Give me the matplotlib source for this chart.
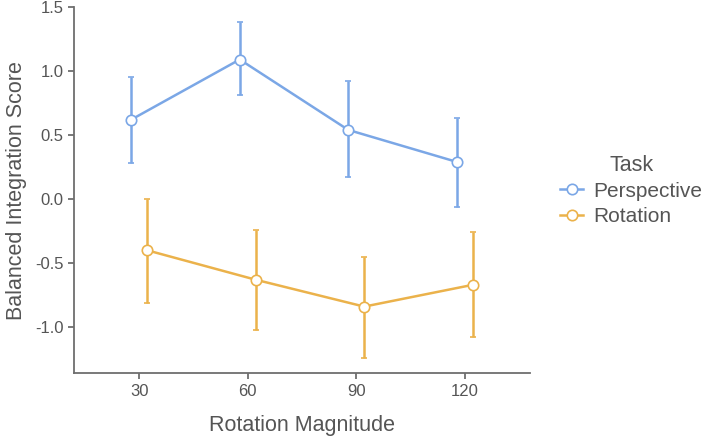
import matplotlib.pyplot as plt
from matplotlib.lines import Line2D
import numpy as np

plt.rcParams['font.family'] = ['Liberation Sans', 'DejaVu Sans']

# data
magnitudes = [30, 60, 90, 120]
tasks = ['Perspective', 'Rotation']
perspective_mean = [0.62, 1.09, 0.54, 0.29]
perspective_low = [0.28, 0.81, 0.17, -0.06]
perspective_high = [0.95, 1.38, 0.92, 0.635]
rotation_mean = [-0.40, -0.63, -0.84, -0.67]
rotation_low = [-0.81, -1.02, -1.24, -1.075]
rotation_high = [0.0, -0.24, -0.45, -0.26]

colors = {'Perspective': '#7BA7E6', 'Rotation': '#EBB24B'}
dodge = {'Perspective': -2.2, 'Rotation': 2.2}
series = {
    'Perspective': (perspective_mean, perspective_low, perspective_high),
    'Rotation': (rotation_mean, rotation_low, rotation_high),
}

fig = plt.figure(figsize=(7.08, 4.38), dpi=100)
ax = fig.add_axes([0.1045, 0.148, 0.644, 0.836])

handles = []
for task in tasks:
    mean, low, high = series[task]
    x = np.array(magnitudes) + dodge[task]
    mean = np.array(mean)
    err = [mean - np.array(low), np.array(high) - mean]
    ax.errorbar(x, mean, yerr=err, color=colors[task], lw=1.8, capsize=2,
                capthick=1.8, marker='o', markersize=7.5, markerfacecolor='white',
                markeredgecolor=colors[task], markeredgewidth=1.2)
    handles.append(Line2D([], [], color=colors[task], lw=1.8, marker='o', markersize=7.5,
                          markerfacecolor='white', markeredgecolor=colors[task],
                          markeredgewidth=1.2, label=task))

ax.set_xlim(12, 138)
ax.set_ylim(-1.36, 1.5)
ax.set_xticks(magnitudes)
ax.set_yticks([-1.0, -0.5, 0.0, 0.5, 1.0, 1.5])
ax.set_yticklabels(['-1.0', '-0.5', '0.0', '0.5', '1.0', '1.5'])

for s in ['top', 'right']:
    ax.spines[s].set_visible(False)
for s in ['left', 'bottom']:
    ax.spines[s].set_color('#6e6e6e')
    ax.spines[s].set_linewidth(1.3)
ax.tick_params(colors='#6e6e6e', labelcolor='#555555', labelsize=12, length=4, width=1.3)

ax.set_xlabel('Rotation Magnitude', fontsize=15.5, color='#555555', labelpad=12)
ax.set_ylabel('Balanced Integration Score', fontsize=15.5, color='#555555', labelpad=6)

leg = fig.legend(handles=handles, loc='upper left', bbox_to_anchor=(0.765, 0.69),
                 frameon=False, title='Task', fontsize=15, title_fontsize=15.5,
                 handlelength=1.1, handletextpad=0.5, labelspacing=0.3)
for t in leg.get_texts():
    t.set_color('#555555')
leg.get_title().set_color('#555555')

fig.savefig('out.png', dpi=100)
